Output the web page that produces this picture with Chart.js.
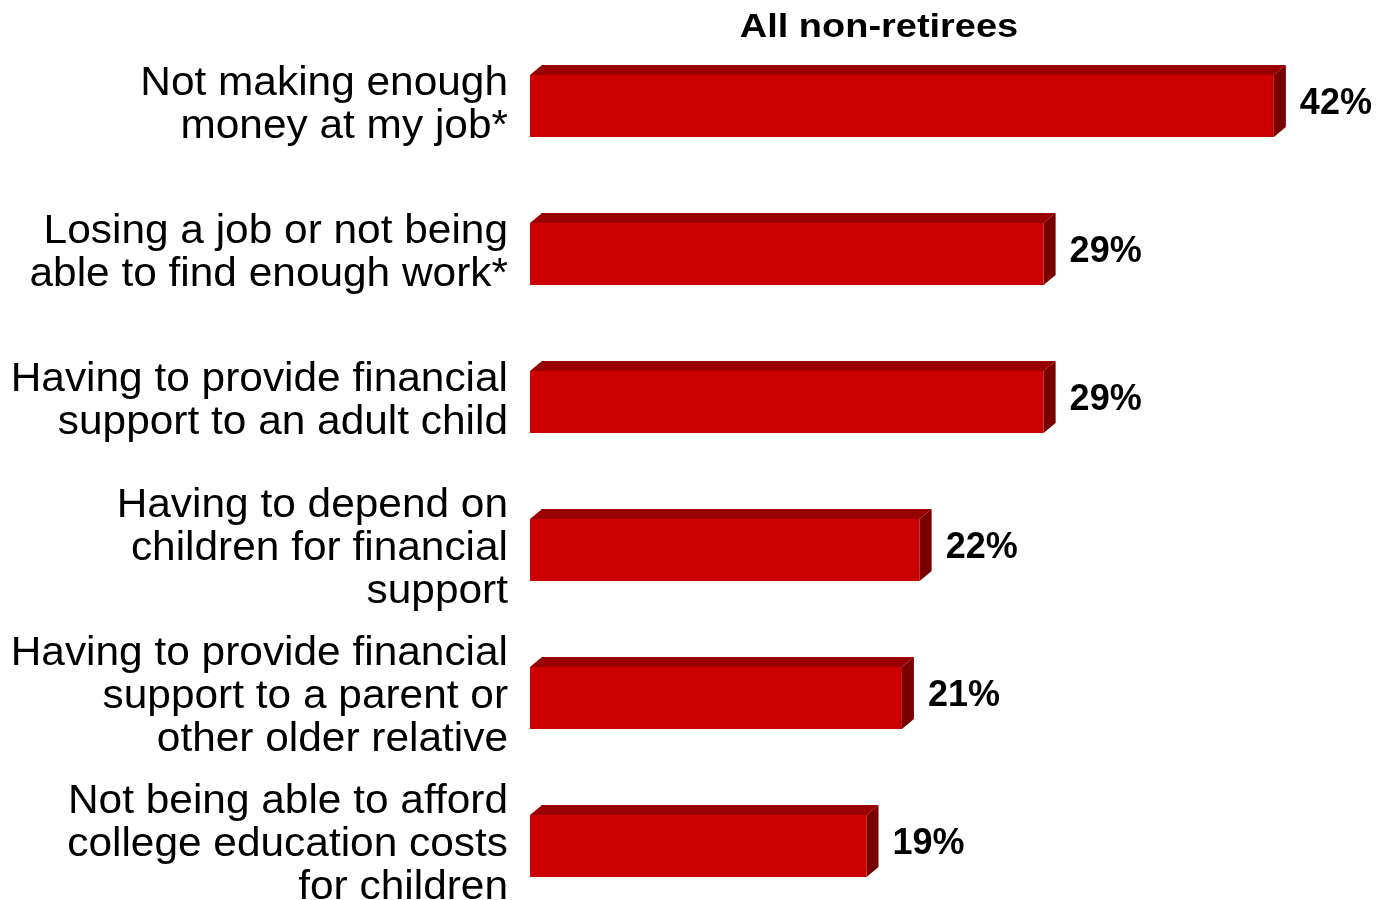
<!DOCTYPE html>
<html>
<head>
<meta charset="utf-8">
<script src="https://cdn.jsdelivr.net/npm/chart.js@4.4.1/dist/chart.umd.min.js"></script>
<style>
  html, body { margin: 0; padding: 0; background: #fff; overflow: hidden; }
  canvas { display: block; }
</style>
</head>
<body>
<canvas id="worryChart" width="1377" height="940"></canvas>
<script>
const chartTitle = "All non-retirees";

const categories = [
    ["Not making enough", "money at my job*"],
    ["Losing a job or not being", "able to find enough work*"],
    ["Having to provide financial", "support to an adult child"],
    ["Having to depend on", "children for financial", "support"],
    ["Having to provide financial", "support to a parent or", "other older relative"],
    ["Not being able to afford", "college education costs", "for children"]
];

const values = [42, 29, 29, 22, 21, 19];

const FONT = "'Liberation Sans', Arial, sans-serif";

// category labels, drawn a little wider than the stock ticks like the original
const catLabels = {
    id: "catLabels",
    afterDraw(chart) {
        const ctx = chart.ctx;
        const yScale = chart.scales.y;
        const lineH = 43;
        ctx.save();
        ctx.fillStyle = "#000";
        ctx.font = "40px " + FONT;
        ctx.textAlign = "right";
        ctx.textBaseline = "middle";
        categories.forEach((lines, i) => {
            const cy = yScale.getPixelForTick(i) - 1;
            lines.forEach((line, j) => {
                const ly = cy + (j - (lines.length - 1) / 2) * lineH;
                ctx.save();
                ctx.translate(yScale.right - 22, ly);
                ctx.scale(1.06, 1);
                ctx.fillText(line, 0, 0);
                ctx.restore();
            });
        });
        ctx.restore();
    }
};

// draws the top and right faces of each bar, plus the value labels and title
const bar3d = {
    id: "bar3d",
    afterDatasetsDraw(chart) {
        const ctx = chart.ctx;
        const meta = chart.getDatasetMeta(0);
        const dx = 12, dy = 10;
        ctx.save();
        meta.data.forEach((bar, i) => {
            const p = bar.getProps(["x", "y", "base", "height"], true);
            const top = p.y - p.height / 2;
            const bottom = p.y + p.height / 2;

            ctx.fillStyle = "#990000";
            ctx.beginPath();
            ctx.moveTo(p.base, top);
            ctx.lineTo(p.base + dx, top - dy);
            ctx.lineTo(p.x + dx, top - dy);
            ctx.lineTo(p.x, top);
            ctx.closePath();
            ctx.fill();

            ctx.fillStyle = "#7a0000";
            ctx.beginPath();
            ctx.moveTo(p.x, top);
            ctx.lineTo(p.x + dx, top - dy);
            ctx.lineTo(p.x + dx, bottom - dy);
            ctx.lineTo(p.x, bottom);
            ctx.closePath();
            ctx.fill();

            ctx.fillStyle = "#000";
            ctx.font = "bold 36px " + FONT;
            ctx.textAlign = "left";
            ctx.textBaseline = "middle";
            ctx.fillText(values[i] + "%", p.x + 26, p.y - 2);
        });

        ctx.translate(879, 28);
        ctx.scale(1.15, 1);
        ctx.font = "bold 33px " + FONT;
        ctx.textAlign = "center";
        ctx.fillText(chartTitle, 0, 0);
        ctx.restore();
    }
};

new Chart(document.getElementById("worryChart").getContext("2d"), {
    type: "bar",
    data: {
        labels: categories,
        datasets: [{
            data: values,
            backgroundColor: "#cc0000",
            borderWidth: 0,
            barPercentage: 0.42,
            categoryPercentage: 1
        }]
    },
    options: {
        indexAxis: "y",
        responsive: false,
        animation: false,
        layout: { padding: { top: 32, right: 50, bottom: 20, left: 0 } },
        plugins: {
            legend: { display: false },
            tooltip: { enabled: false }
        },
        scales: {
            x: { display: false, min: 0, max: 45 },
            y: {
                grid: { display: false, drawTicks: false },
                border: { display: false },
                ticks: { display: false },
                afterFit: (scale) => {
                    scale.width = 530;
                    scale.paddingTop = 0;
                    scale.paddingBottom = 0;
                }
            }
        }
    },
    plugins: [bar3d, catLabels]
});
</script>
</body>
</html>
